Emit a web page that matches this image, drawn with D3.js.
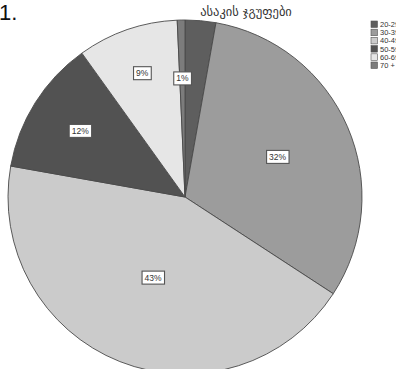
<!DOCTYPE html>
<html><head><meta charset="utf-8">
<script src="https://cdn.jsdelivr.net/npm/d3@7"></script>
<style>body{margin:0;background:#fff;}svg{display:block;}</style>
</head><body>
<svg id="c" width="396" height="369"></svg>
<script>
const categories = ["20-29", "30-39", "40-49", "50-59", "60-69", "70 +"];
const values = [2.8, 31.4, 43.6, 12.3, 9.2, 0.7];
const labels = ["", "32%", "43%", "12%", "9%", "1%"];
const colors = ["#5e5e5e", "#9c9c9c", "#cbcbcb", "#525252", "#e6e6e6", "#7c7c7c"];
const labelRadius = [0, 0.57, 0.49, 0.70, 0.74, 0.67];
const title = "ასაკის ჯგუფები";

const svg = d3.select("#c");
const cx = 185, cy = 197, R = 177;

svg.append("text").attr("x", -1).attr("y", 20).attr("font-family", "Liberation Sans, Arial")
  .attr("font-size", 22).attr("fill", "#111").text("1.");

svg.append("text").attr("x", 246).attr("y", 16).attr("text-anchor", "middle")
  .attr("font-family", "DejaVu Sans").attr("font-size", 12.5).attr("fill", "#333").text(title);

const pie = d3.pie().sort(null).value(d => d)(values);
const arc = d3.arc().innerRadius(0).outerRadius(R);
const g = svg.append("g").attr("transform", `translate(${cx},${cy})`);
g.selectAll("path").data(pie).join("path")
  .attr("d", arc).attr("fill", (d, i) => colors[i])
  .attr("stroke", "#4a4a4a").attr("stroke-width", 0.9);

pie.forEach((d, i) => {
  if (!labels[i]) return;
  const r = R * labelRadius[i];
  const c = d3.arc().innerRadius(r).outerRadius(r).centroid(d);
  const lg = g.append("g").attr("transform", `translate(${c[0]},${c[1]})`);
  const t = lg.append("text").attr("text-anchor", "middle").attr("dy", "0.35em")
    .attr("font-family", "Liberation Sans, Arial").attr("font-size", 8.5).attr("fill", "#333").text(labels[i]);
  const bb = t.node().getBBox();
  lg.insert("rect", "text").attr("x", bb.x - 2.5).attr("y", bb.y - 1.5)
    .attr("width", bb.width + 5).attr("height", bb.height + 3)
    .attr("fill", "#fff").attr("stroke", "#555").attr("stroke-width", 1.1);
});

const leg = svg.append("g").attr("transform", "translate(371,21)");
categories.forEach((c, i) => {
  const y = i * 8.2;
  leg.append("rect").attr("x", 0).attr("y", y).attr("width", 6.5).attr("height", 6.5)
    .attr("fill", colors[i]).attr("stroke", "#555").attr("stroke-width", 0.6);
  leg.append("text").attr("x", 9).attr("y", y + 6).attr("font-family", "Liberation Sans, Arial")
    .attr("font-size", 7.5).attr("fill", "#333").text(c);
});
</script>
</body></html>
